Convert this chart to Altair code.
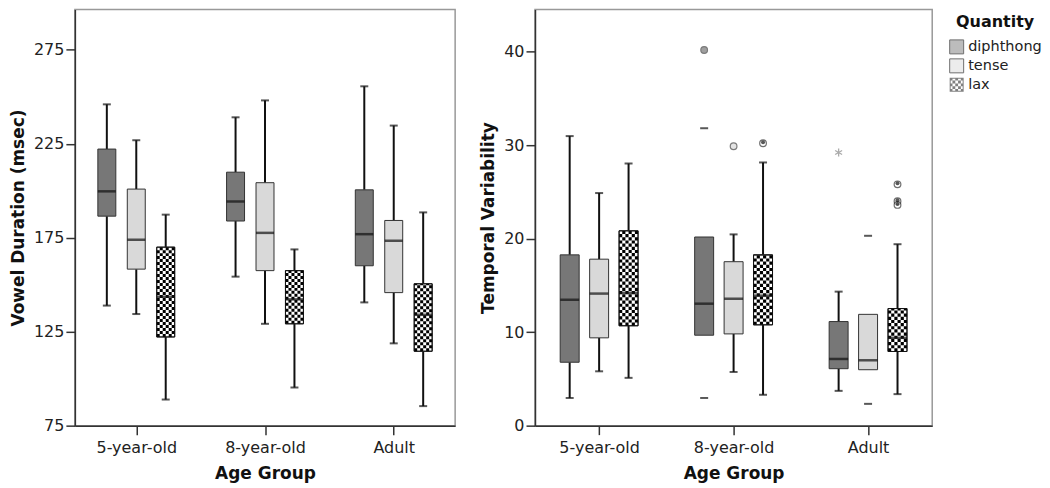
import altair as alt
import pandas as pd

groups = ["5-year-old", "8-year-old", "Adult"]
quantities = ["diphthong", "tense", "lax"]

# order: 5-year-old (diphthong, tense, lax), 8-year-old (...), Adult (...)
dur_lower = [138.9, 134.4, 88.9, 154.3, 129.2, 95.3, 140.6, 118.8, 85.4]
dur_q1 = [186.5, 158.3, 122.2, 183.9, 157.5, 129.2, 160.1, 145.8, 114.6]
dur_median = [199.7, 174.0, 143.6, 194.3, 177.6, 142.2, 176.9, 173.4, 134.0]
dur_q3 = [222.2, 200.9, 170.0, 209.9, 204.3, 157.5, 200.5, 184.2, 150.5]
dur_upper = [246.0, 226.9, 187.3, 239.1, 248.1, 168.8, 255.6, 234.7, 188.5]
dur_line = [True] * 9

var_lower = [2.96, 5.81, 5.11, 2.96, 5.74, 3.3, 3.72, 2.33, 3.37]
var_q1 = [6.78, 9.39, 10.68, 9.67, 9.81, 10.78, 6.09, 5.98, 7.93]
var_median = [13.46, 14.12, 14.2, 13.04, 13.57, 13.9, 7.13, 6.99, 9.39]
var_q3 = [18.26, 17.8, 20.83, 20.17, 17.53, 18.26, 11.13, 11.9, 12.52]
var_upper = [30.96, 24.87, 28.03, 31.8, 20.45, 28.14, 14.33, 20.3, 19.4]
var_line = [True, True, True, False, True, True, True, False, True]

out_group = ["8-year-old", "8-year-old", "8-year-old", "Adult", "Adult", "Adult"]
out_quantity = ["diphthong", "tense", "lax", "lax", "lax", "lax"]
out_value = [40.17, 29.88, 30.2, 25.8, 24.0, 23.6]

ext_group = ["Adult"]
ext_quantity = ["diphthong"]
ext_value = [29.2]

FILL = {"diphthong": "#777777", "tense": "#d9d9d9", "lax": "#ffffff"}
OFFS = {"diphthong": -29.5, "tense": 0.0, "lax": 29.5}
FONT = "DejaVu Sans"


def make_df(lower, q1, med, q3, upper, line):
    rows = []
    i = 0
    for g in groups:
        for q in quantities:
            rows.append(dict(group=g, quantity=q, lower=lower[i], q1=q1[i],
                             median=med[i], q3=q3[i], upper=upper[i], line=line[i]))
            i += 1
    return pd.DataFrame(rows)


dur_df = make_df(dur_lower, dur_q1, dur_median, dur_q3, dur_upper, dur_line)
var_df = make_df(var_lower, var_q1, var_median, var_q3, var_upper, var_line)
out_df = pd.DataFrame(dict(group=out_group, quantity=out_quantity, value=out_value))
ext_df = pd.DataFrame(dict(group=ext_group, quantity=ext_quantity, value=ext_value))

# checker legend symbol: outer ring + 5x5 checker cells in [-1, 1]
parts = ["M-1,-1L1,-1L1,1L-1,1Z", "M-0.86,-0.86L-0.86,0.86L0.86,0.86L0.86,-0.86Z"]
for i in range(5):
    for j in range(5):
        if (i + j) % 2 == 0:
            x0 = -1 + 0.4 * i
            y0 = -1 + 0.4 * j
            x1 = x0 + 0.4
            y1 = y0 + 0.4
            parts.append(f"M{x0:.2f},{y0:.2f}L{x1:.2f},{y0:.2f}L{x1:.2f},{y1:.2f}L{x0:.2f},{y1:.2f}Z")
checker_path = "".join(parts)
asterisk = "M0,-1L0,1M-0.87,-0.5L0.87,0.5M-0.87,0.5L0.87,-0.5"


def panel(df, ytitle, domain, ticks, width, height, box_w, outliers=None, extremes=None, legend=False):
    xenc = alt.X("group:N", sort=groups,
                 scale=alt.Scale(type="point", domain=groups, padding=0.477),
                 axis=alt.Axis(title="Age Group", labelAngle=0))
    yscale = alt.Scale(domain=domain, nice=False, zero=False)
    yaxis = alt.Axis(title=ytitle, values=ticks)
    base = alt.Chart(df)
    layers = []
    ncol = 6
    cw = box_w / ncol
    for q in quantities:
        dq = OFFS[q]
        b = base.transform_filter(alt.datum.quantity == q)
        bl = b.transform_filter(alt.datum.line == True)
        layers.append(bl.mark_rule(xOffset=dq, strokeWidth=2, color="#111111").encode(
            x=xenc, y=alt.Y("q3:Q", scale=yscale, axis=yaxis), y2="upper:Q"))
        layers.append(bl.mark_rule(xOffset=dq, strokeWidth=2, color="#111111").encode(
            x=xenc, y=alt.Y("lower:Q", scale=yscale, axis=yaxis), y2="q1:Q"))
        layers.append(b.mark_tick(xOffset=dq, size=8, thickness=2, color="#111111").encode(
            x=xenc, y=alt.Y("upper:Q", scale=yscale, axis=yaxis)))
        layers.append(b.mark_tick(xOffset=dq, size=8, thickness=2, color="#111111").encode(
            x=xenc, y=alt.Y("lower:Q", scale=yscale, axis=yaxis)))
        layers.append(b.mark_bar(xOffset=dq, size=box_w, fill=FILL[q], stroke="#333333",
                                 strokeWidth=1).encode(
            x=xenc, y=alt.Y("q1:Q", scale=yscale, axis=yaxis), y2="q3:Q"))
        if q == "lax":
            for c in range(ncol):
                layers.append(b.mark_rule(xOffset=dq + (c - (ncol - 1) / 2) * cw, strokeWidth=cw,
                                          strokeDash=[cw, cw], strokeDashOffset=(c % 2) * cw,
                                          color="#000000").encode(
                    x=xenc, y=alt.Y("q1:Q", scale=yscale, axis=yaxis), y2="q3:Q"))
            layers.append(b.mark_bar(xOffset=dq, size=box_w, filled=False, stroke="#111111",
                                     strokeWidth=1).encode(
                x=xenc, y=alt.Y("q1:Q", scale=yscale, axis=yaxis), y2="q3:Q"))
        layers.append(b.mark_tick(xOffset=dq, size=box_w, thickness=2.5, color="#111111").encode(
            x=xenc, y=alt.Y("median:Q", scale=yscale, axis=yaxis)))
    if outliers is not None:
        ob = alt.Chart(outliers)
        for q in quantities:
            oq = ob.transform_filter(alt.datum.quantity == q)
            if q == "lax":
                layers.append(oq.mark_point(xOffset=OFFS[q], shape="circle", size=45, filled=True,
                                            fill="#ffffff", stroke="#333333", strokeWidth=1.2).encode(
                    x=xenc, y=alt.Y("value:Q", scale=yscale, axis=yaxis)))
                layers.append(oq.mark_point(xOffset=OFFS[q], yOffset=-1, shape="circle", size=16,
                                            filled=True, fill="#111111", strokeWidth=0).encode(
                    x=xenc, y=alt.Y("value:Q", scale=yscale, axis=yaxis)))
            else:
                layers.append(oq.mark_point(xOffset=OFFS[q], shape="circle", size=45, filled=True,
                                            fill=FILL[q], stroke="#444444", strokeWidth=1.2).encode(
                    x=xenc, y=alt.Y("value:Q", scale=yscale, axis=yaxis)))
    if extremes is not None:
        eb = alt.Chart(extremes)
        for q in quantities:
            eq = eb.transform_filter(alt.datum.quantity == q)
            layers.append(eq.mark_point(xOffset=OFFS[q], shape=asterisk, size=64, filled=False,
                                        stroke="#888888", strokeWidth=1.3).encode(
                x=xenc, y=alt.Y("value:Q", scale=yscale, axis=yaxis)))
    if legend:
        lg = alt.Legend(title="Quantity")
        layers.append(base.transform_filter("false").mark_point(filled=True, size=196).encode(
            x=xenc, y=alt.Y("median:Q", scale=yscale, axis=yaxis),
            fill=alt.Fill("quantity:N", sort=quantities,
                          scale=alt.Scale(domain=quantities, range=["#777777", "#d9d9d9", "#000000"]),
                          legend=lg),
            shape=alt.Shape("quantity:N", sort=quantities,
                            scale=alt.Scale(domain=quantities, range=["square", "square", checker_path]),
                            legend=lg),
            stroke=alt.Stroke("quantity:N", sort=quantities,
                              scale=alt.Scale(domain=quantities, range=["#333333", "#333333", "transparent"]),
                              legend=lg),
        ))
    return alt.layer(*layers).properties(width=width, height=height)


left = panel(dur_df, "Vowel Duration (msec)", [75, 296.5], [75, 125, 175, 225, 275], 381, 417, 18)
right = panel(var_df, "Temporal Variability", [0, 44.5], [0, 10, 20, 30, 40], 398, 417, 19,
              outliers=out_df, extremes=ext_df, legend=True)

chart = alt.hconcat(left, right, spacing=22).properties(
    padding={"left": 0, "top": 0, "right": 0, "bottom": 0}
).configure(
    padding={"left": 0, "top": 0, "right": 0, "bottom": 0}
).configure_view(
    stroke="#999999", strokeWidth=1.5
).configure_axis(
    labelFont=FONT, labelFontSize=16, labelColor="#222222",
    titleFont=FONT, titleFontSize=17, titleFontWeight="bold", titleColor="#111111",
    domainColor="#333333", domainWidth=1.5, tickColor="#333333", tickSize=9, tickWidth=1.5,
    grid=False, labelPadding=2, titlePadding=6,
).configure_axisX(
    titlePadding=10, labelPadding=5, tickSize=9
).configure_legend(
    titleFont=FONT, titleFontSize=16, titleFontWeight="bold", titleColor="#111111",
    labelFont=FONT, labelFontSize=14.5, labelColor="#222222",
    symbolSize=196, symbolStrokeWidth=1, labelOffset=4, rowPadding=0,
    orient="none", legendX=876, legendY=5,
    padding=0, titleAnchor="middle", titlePadding=9,
)

chart.save("out.html", embed_options={"renderer": "svg", "actions": False})
